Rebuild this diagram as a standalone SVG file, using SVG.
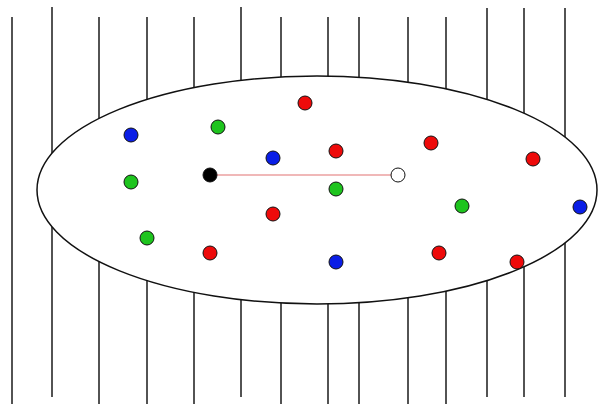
<svg xmlns="http://www.w3.org/2000/svg" width="603" height="404" viewBox="0 0 603 404">
<style>
.v{stroke:#1a1a1a;stroke-width:1.5}
.d{stroke:#111;stroke-width:1}
.r{fill:#ee0a0a}
.g{fill:#1ec41e}
.b{fill:#0a1ee6}
.k{fill:#000}
.w{fill:#fff}
</style>
<rect width="603" height="404" fill="#fff"/>
<g id="stripes">
<line class="v" x1="12" y1="17" x2="12" y2="404"/>
<line class="v" x1="52" y1="7" x2="52" y2="397"/>
<line class="v" x1="99" y1="17" x2="99" y2="404"/>
<line class="v" x1="147" y1="17" x2="147" y2="404"/>
<line class="v" x1="194" y1="17" x2="194" y2="404"/>
<line class="v" x1="241" y1="7" x2="241" y2="397"/>
<line class="v" x1="281" y1="17" x2="281" y2="404"/>
<line class="v" x1="328" y1="17" x2="328" y2="404"/>
<line class="v" x1="359" y1="17" x2="359" y2="404"/>
<line class="v" x1="408" y1="17" x2="408" y2="404"/>
<line class="v" x1="446" y1="17" x2="446" y2="404"/>
<line class="v" x1="487" y1="8" x2="487" y2="397"/>
<line class="v" x1="524" y1="8" x2="524" y2="397"/>
<line class="v" x1="565" y1="8" x2="565" y2="397"/>
</g>
<ellipse id="region" cx="317" cy="190" rx="280" ry="114" fill="#fff" stroke="#111" stroke-width="1.5"/>
<g id="connectors">
<line x1="210" y1="175" x2="398" y2="175" stroke="#f0b8b8" stroke-width="2"/>
</g>
<g id="n1"><circle class="d r" cx="305" cy="103" r="7"/></g>
<g id="n2"><circle class="d b" cx="131" cy="135" r="7"/></g>
<g id="n3"><circle class="d g" cx="218" cy="127" r="7"/></g>
<g id="n4"><circle class="d b" cx="273" cy="158" r="7"/></g>
<g id="n5"><circle class="d r" cx="336" cy="151" r="7"/></g>
<g id="n6"><circle class="d r" cx="431" cy="143" r="7"/></g>
<g id="n7"><circle class="d r" cx="533" cy="159" r="7"/></g>
<g id="n8"><circle class="d g" cx="131" cy="182" r="7"/></g>
<g id="n9"><circle class="d k" cx="210" cy="175" r="7"/></g>
<g id="n10"><circle class="d w" cx="398" cy="175" r="7"/></g>
<g id="n11"><circle class="d g" cx="336" cy="189" r="7"/></g>
<g id="n12"><circle class="d r" cx="273" cy="214" r="7"/></g>
<g id="n13"><circle class="d g" cx="462" cy="206" r="7"/></g>
<g id="n14"><circle class="d b" cx="580" cy="207" r="7"/></g>
<g id="n15"><circle class="d g" cx="147" cy="238" r="7"/></g>
<g id="n16"><circle class="d r" cx="210" cy="253" r="7"/></g>
<g id="n17"><circle class="d b" cx="336" cy="262" r="7"/></g>
<g id="n18"><circle class="d r" cx="439" cy="253" r="7"/></g>
<g id="n19"><circle class="d r" cx="517" cy="262" r="7"/></g>
</svg>
